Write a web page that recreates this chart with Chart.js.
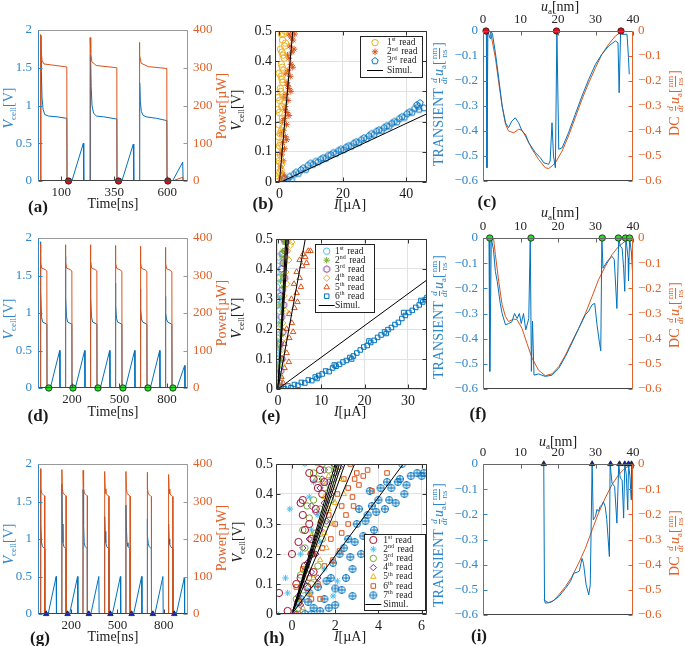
<!DOCTYPE html>
<html lang="en">
<head>
<meta charset="UTF-8">
<title>Read transients</title>
<script src="https://cdn.jsdelivr.net/npm/chart.js@4.4.1/dist/chart.umd.min.js"></script>
<style>
  html, body { margin: 0; padding: 0; background: #fff; }
  #fig { position: relative; width: 685px; height: 646px; overflow: hidden; font-family: "Liberation Serif", "DejaVu Serif", serif; color: #1a1a1a; }
  #fig canvas { position: absolute; }
  .t { position: absolute; white-space: nowrap; font-size: 14px; line-height: 1; transform: translate(-50%, -50%); }
  .r { transform: translate(-50%, -50%) rotate(-90deg); }
  .tag { font-weight: bold; font-size: 17px; }
  .t sub { font-size: 9px; vertical-align: -3px; line-height: 0; }
  .frac { display: inline-flex; flex-direction: column; align-items: center; vertical-align: middle; font-size: 9px; line-height: 1.05; margin: 0 1px; }
  .frac > span:first-child { border-bottom: 1px solid currentColor; }
  .blue { color: #2f86c9; }
  .orange { color: #e0622a; }
</style>
</head>
<body>
<div id="fig">
  <canvas id="ca"></canvas><canvas id="cb"></canvas><canvas id="cc"></canvas>
  <canvas id="cd"></canvas><canvas id="ce"></canvas><canvas id="cf"></canvas>
  <canvas id="cg"></canvas><canvas id="ch"></canvas><canvas id="ci"></canvas>

  <!-- row 1 -->
  <div class="t r blue" style="left:9px;top:108px"><i>V</i><sub>cell</sub>[V]</div>
  <div class="t r orange" style="left:222px;top:106px">Power[µW]</div>
  <div class="t" style="left:113px;top:204px">Time[ns]</div>
  <div class="t tag" style="left:38px;top:206px">(a)</div>
  <div class="t r" style="left:237px;top:110px"><i>V</i><sub>cell</sub>[V]</div>
  <div class="t" style="left:350px;top:205px"><i>I</i>[µA]</div>
  <div class="t tag" style="left:263px;top:203px">(b)</div>
  <div class="t r blue" style="left:440px;top:104px">TRANSIENT <span class="frac"><span><i>d</i></span><span><i>dt</i></span></span><i>u</i><sub>a</sub>[<span class="frac"><span>nm</span><span>ns</span></span>]</div>
  <div class="t" style="left:560px;top:7px"><i>u</i><sub>a</sub>[nm]</div>
  <div class="t r orange" style="left:676px;top:103px">DC <span class="frac"><span><i>d</i></span><span><i>dt</i></span></span><i>u</i><sub>a</sub>[<span class="frac"><span>nm</span><span>ns</span></span>]</div>
  <div class="t tag" style="left:487px;top:201px">(c)</div>

  <!-- row 2 -->
  <div class="t r blue" style="left:9px;top:319px"><i>V</i><sub>cell</sub>[V]</div>
  <div class="t r orange" style="left:222px;top:313px">Power[µW]</div>
  <div class="t" style="left:113px;top:412px">Time[ns]</div>
  <div class="t tag" style="left:38px;top:415px">(d)</div>
  <div class="t r" style="left:237px;top:318px"><i>V</i><sub>cell</sub>[V]</div>
  <div class="t" style="left:350px;top:412px"><i>I</i>[µA]</div>
  <div class="t tag" style="left:271px;top:415px">(e)</div>
  <div class="t r blue" style="left:440px;top:317px">TRANSIENT <span class="frac"><span><i>d</i></span><span><i>dt</i></span></span><i>u</i><sub>a</sub>[<span class="frac"><span>nm</span><span>ns</span></span>]</div>
  <div class="t" style="left:560px;top:213px"><i>u</i><sub>a</sub>[nm]</div>
  <div class="t r orange" style="left:676px;top:315px">DC <span class="frac"><span><i>d</i></span><span><i>dt</i></span></span><i>u</i><sub>a</sub>[<span class="frac"><span>nm</span><span>ns</span></span>]</div>
  <div class="t tag" style="left:478px;top:413px">(f)</div>

  <!-- row 3 -->
  <div class="t r blue" style="left:9px;top:544px"><i>V</i><sub>cell</sub>[V]</div>
  <div class="t r orange" style="left:222px;top:538px">Power[µW]</div>
  <div class="t" style="left:113px;top:637px">Time[ns]</div>
  <div class="t tag" style="left:40px;top:637px">(g)</div>
  <div class="t r" style="left:238px;top:542px"><i>V</i><sub>cell</sub>[V]</div>
  <div class="t" style="left:350px;top:637px"><i>I</i>[µA]</div>
  <div class="t tag" style="left:274px;top:637px">(h)</div>
  <div class="t r blue" style="left:440px;top:545px">TRANSIENT <span class="frac"><span><i>d</i></span><span><i>dt</i></span></span><i>u</i><sub>a</sub>[<span class="frac"><span>nm</span><span>ns</span></span>]</div>
  <div class="t" style="left:558px;top:442px"><i>u</i><sub>a</sub>[nm]</div>
  <div class="t r orange" style="left:676px;top:543px">DC <span class="frac"><span><i>d</i></span><span><i>dt</i></span></span><i>u</i><sub>a</sub>[<span class="frac"><span>nm</span><span>ns</span></span>]</div>
  <div class="t tag" style="left:479px;top:635px">(i)</div>
</div>

<script>
// ---------- data ----------
// (a) three reads, [time ns, value]
const aTicks = [100, 350, 600];
const aVcell = [[-10,0],[3,0],[4,1.93],[6,1.45],[9,1.1],[14,0.95],[22,0.88],[40,0.86],[80,0.85],[126,0.83],[127,0],[150,0],[204,0.5],[206,0],
  [237,0],[238,1.68],[241,1.25],[245,1.0],[252,0.9],[265,0.86],[300,0.85],[362,0.82],[363,0],[386,0],[440,0.49],[442,0],
  [469,0],[470,1.3],[473,1.05],[478,0.92],[486,0.87],[500,0.85],[550,0.83],[598,0.8],[599,0],[625,0],[673,0.25],[675,0],[698,0]];
const aPower = [[-10,0],[1,0],[2,388],[5,345],[9,320],[18,310],[60,307],[126,302],[127,0],
  [235,0],[236,380],[239,338],[244,316],[265,306],[362,300],[363,0],
  [467,0],[468,367],[471,332],[477,312],[510,303],[598,298],[599,0],[625,0],[673,10],[675,0],[698,0]];
const aMarks = [[134,0],[370,0],[603,0]];

// (d) six reads
const dTicks = [200, 500, 800];
const dVcell = [[-15,0],[-1,0],[0,1.95],[3,1.3],[7,0.95],[14,0.88],[41,0.85],[42,0],[63,0],[122,0.5],[124,0],
  [157,0],[158,1.75],[161,1.2],[165,0.95],[172,0.88],[199,0.85],[200,0],[221,0],[280,0.5],[282,0],
  [315,0],[316,1.68],[319,1.2],[323,0.95],[330,0.88],[357,0.85],[358,0],[379,0],[438,0.5],[440,0],
  [473,0],[474,1.4],[477,1.1],[481,0.93],[488,0.88],[515,0.85],[516,0],[537,0],[596,0.5],[598,0],
  [631,0],[632,1.32],[635,1.05],[639,0.92],[646,0.88],[673,0.85],[674,0],[695,0],[754,0.5],[756,0],
  [789,0],[790,1.22],[793,1.0],[797,0.92],[804,0.88],[831,0.85],[832,0],[863,0],[912,0.3],[914,0],[933,0]];
const dPower = [[-15,0],[-1,0],[0,385],[3,335],[8,320],[30,316],[41,312],[42,0],
  [157,0],[158,382],[161,335],[166,320],[188,316],[199,312],[200,0],
  [315,0],[316,382],[319,335],[324,320],[346,316],[357,312],[358,0],
  [473,0],[474,380],[477,333],[482,319],[504,315],[515,311],[516,0],
  [631,0],[632,378],[635,333],[640,319],[662,315],[673,311],[674,0],
  [789,0],[790,375],[793,332],[798,318],[820,314],[831,310],[832,0],[933,0]];
const dMarks = [[53,0],[206,0],[364,0],[522,0],[680,0],[838,0]];

// (g) seven reads
const gTicks = [200, 500, 800];
const gVcell = [[-16,0],[-1,0],[0,1.93],[3,1.2],[7,0.95],[13,0.9],[27,0.87],[28,0],[50,0],[102,0.5],[104,0],
  [138,0],[139,1.73],[142,1.2],[146,0.95],[152,0.9],[166,0.87],[167,0],[189,0],[241,0.5],[243,0],
  [276,0],[277,1.66],[280,1.2],[284,0.95],[290,0.9],[304,0.87],[305,0],[327,0],[379,0.5],[381,0],
  [416,0],[417,1.3],[420,1.1],[424,0.95],[430,0.9],[444,0.87],[445,0],[467,0],[519,0.5],[521,0],
  [554,0],[555,1.45],[558,1.15],[562,0.95],[568,0.9],[582,0.87],[583,0],[605,0],[657,0.5],[659,0],
  [692,0],[693,1.27],[696,1.05],[700,0.94],[706,0.9],[720,0.87],[721,0],[743,0],[795,0.5],[797,0],
  [831,0],[832,1.2],[835,1.0],[839,0.93],[845,0.9],[859,0.87],[860,0],[882,0],[934,0.48],[936,0],[958,0]];
const gPower = [[-16,0],[-1,0],[0,388],[3,335],[8,322],[20,318],[27,315],[28,0],
  [138,0],[139,385],[142,335],[147,322],[159,318],[166,315],[167,0],
  [276,0],[277,383],[280,335],[285,322],[297,318],[304,315],[305,0],
  [416,0],[417,380],[420,334],[425,321],[437,317],[444,314],[445,0],
  [554,0],[555,380],[558,334],[563,321],[575,317],[582,314],[583,0],
  [692,0],[693,378],[696,333],[701,320],[713,316],[720,313],[721,0],
  [831,0],[832,372],[835,333],[840,320],[852,316],[859,313],[860,0],[958,0]];
const gMarks = [[37,0],[176,0],[314,0],[454,0],[592,0],[730,0],[869,0]];

// (c) (f) (i) velocity vs u_a, [u_a nm, d/dt u_a nm/ns]
const cTransient = [[0.9,0],[1.05,-0.547],[1.3,0],[1.9,-0.03],[2.1,0],[2.5,-0.01],[3.3,-0.087],[4.2,-0.19],[5.1,-0.3],[6.0,-0.367],[6.8,-0.387],
  [7.7,-0.36],[8.6,-0.347],[9.5,-0.367],[10.4,-0.4],[11.3,-0.413],[12.2,-0.447],[14,-0.487],[15.3,-0.507],[16.2,-0.527],[17.5,-0.533],
  [17.9,-0.52],[18.4,-0.367],[18.8,-0.5],[19.3,-0.547],[19.7,0],[20.2,-0.473],[21.1,-0.467],[22.8,-0.407],[24.6,-0.333],[26.4,-0.26],
  [28.2,-0.193],[30,-0.133],[31.7,-0.093],[33.5,-0.06],[35.3,-0.04],[36,-0.047],[36.3,-0.247],[36.7,0],[37.1,-0.013],[38.4,-0.013],[38.8,-0.107],[39,-0.173]];
const cDC = [[1.96,0],[3.3,-0.107],[4.2,-0.207],[5.1,-0.3],[6,-0.373],[6.8,-0.4],[8.2,-0.407],[9.5,-0.393],[10.4,-0.397],[11.3,-0.42],[13.1,-0.473],
  [14.8,-0.513],[16.6,-0.547],[17.5,-0.55],[18.4,-0.54],[19.3,-0.527],[21.1,-0.48],[22.8,-0.42],[24.6,-0.347],[26.4,-0.273],[28.2,-0.207],
  [30,-0.147],[31.7,-0.093],[33.5,-0.053],[35.3,-0.02],[36.6,-0.007],[38,0]];
const cMarks = [[0.8,0],[19.6,0],[36.8,0]];

const fTransient = [[1.6,0],[1.8,-0.53],[2.0,-0.3],[2.2,0],[2.8,-0.047],[3.3,-0.133],[3.8,-0.173],[4.6,-0.26],[5.1,-0.3],[6,-0.345],[6.8,-0.34],
  [7.7,-0.333],[8.4,-0.3],[9.1,-0.32],[9.7,-0.3],[10.2,-0.34],[10.8,-0.3],[11.4,-0.365],[12.2,-0.32],[12.6,0],[12.9,-0.53],[13.2,-0.33],
  [13.6,-0.545],[14.8,-0.54],[16.6,-0.55],[18.4,-0.545],[20.2,-0.518],[22,-0.47],[23.7,-0.418],[25.5,-0.36],[27.3,-0.305],[28.2,-0.29],
  [29.1,-0.265],[29.8,-0.26],[30.4,-0.345],[31,-0.41],[31.4,-0.448],[31.7,0],[32,-0.12],[33.1,-0.093],[34.4,-0.073],[35,-0.085],[35.7,-0.28],
  [36.2,0],[36.6,-0.033],[37.1,-0.04],[37.5,-0.12],[37.8,-0.212],[38.1,0],[38.7,-0.08],[38.8,-0.17],[39.1,0],[39.6,-0.06],[39.9,-0.146]];
const fDC = [[2.8,0],[3.3,-0.066],[4.2,-0.173],[5.1,-0.266],[6,-0.312],[6.8,-0.332],[8.2,-0.322],[9.1,-0.325],[10.4,-0.359],[11.7,-0.418],
  [13.1,-0.478],[14.8,-0.525],[16.6,-0.547],[18.4,-0.54],[20.2,-0.511],[22,-0.465],[23.7,-0.412],[25.5,-0.359],[27.3,-0.3],[29.1,-0.232],
  [30.8,-0.166],[32.6,-0.113],[34.4,-0.066],[36.2,-0.033],[37.9,-0.013],[39.3,0]];
const fMarks = [[1.8,0],[12.8,0],[31.8,0],[36.1,0],[38,0],[39.1,0]];

const iTransient = [[16.2,0],[16.4,-0.54],[16.6,-0.553],[17.5,-0.551],[18.4,-0.547],[20.2,-0.527],[22,-0.494],[23.3,-0.467],[24.2,-0.434],
  [25.1,-0.43],[25.7,-0.425],[26.4,-0.375],[26.8,-0.395],[27.5,-0.48],[28.2,-0.52],[28.6,-0.48],[29.1,0],[29.4,-0.222],[30,-0.208],[30.4,-0.18],
  [30.8,-0.188],[31.2,-0.17],[31.7,-0.162],[32.1,-0.15],[32.6,-0.17],[33,-0.22],[33.7,-0.368],[33.9,0],[34.4,-0.076],[35.1,-0.09],[35.7,-0.235],
  [36.2,0],[36.6,-0.056],[37.1,-0.063],[37.5,-0.215],[37.8,0],[38.2,-0.04],[38.6,-0.182],[38.8,0],[39.2,-0.05],[39.5,-0.142],[39.6,0],[40,-0.14]];
const iDC = [[16.2,-0.54],[17.5,-0.551],[18.8,-0.543],[20.2,-0.52],[22,-0.487],[23.7,-0.448],[25.5,-0.394],[27.3,-0.335],[29.1,-0.262],
  [30.8,-0.195],[32.6,-0.135],[34.4,-0.082],[36.2,-0.042],[37.9,-0.016],[39.7,-0.003]];
const iMarks = [[16.2,0],[29.1,0],[34,0],[36.4,0],[37.8,0],[38.8,0],[39.6,0]];

// (b) (e) (h) I-V reads, [I µA, V]
const bLabels = ['1st read', '2nd read', '3rd read'];
const bRead1 = [[-0.6,0.01],[0.1,0.03],[-1.0,0.05],[-0.1,0.07],[0.3,0.09],[-0.6,0.11],[0.4,0.13],[-0.3,0.15],[0.6,0.17],[-0.2,0.19],[0.9,0.21],
  [0.0,0.23],[0.7,0.25],[0.1,0.27],[1.0,0.29],[0.3,0.31],[1.1,0.33],[0.5,0.35],[1.3,0.37],[0.6,0.39],[1.5,0.41],[0.8,0.43],[1.6,0.45],[1.0,0.47],
  [1.3,0.49],[1.7,0.5],[-1.2,0.02],[0.5,0.04],[-0.8,0.08],[0.2,0.16],[-0.5,0.24],[1.4,0.26],[0.4,0.3],[-0.1,0.36],[0.9,0.38],[0.3,0.44],
  [1.9,0.46],[0.6,0.49],[1.2,0.42],[0.8,0.34],[-0.4,0.28],[1.1,0.18],[0.0,0.12],[0.7,0.06]];
const bRead2 = [[0.3,0.01],[0.9,0.03],[0.4,0.05],[1.2,0.07],[0.7,0.09],[1.6,0.11],[1.0,0.13],[1.9,0.15],[1.2,0.17],[2.2,0.19],[1.5,0.21],[2.4,0.23],
  [1.8,0.25],[2.7,0.27],[2.1,0.29],[3.0,0.31],[2.4,0.33],[3.4,0.35],[2.7,0.37],[3.6,0.39],[3.0,0.41],[3.9,0.43],[3.3,0.45],[4.3,0.47],[3.6,0.48],
  [4.8,0.49],[1.5,0.02],[0.6,0.1],[2.3,0.14],[0.9,0.2],[3.0,0.22],[1.4,0.28],[3.6,0.3],[2.0,0.36],[4.2,0.38],[2.5,0.42],[4.6,0.44],[3.0,0.49],
  [4.0,0.5],[1.7,0.24],[2.6,0.32],[0.5,0.16]];
const bRead3 = [[0.8,0.002],[1.4,0.012],[2.0,-0.004],[2.6,0.008],[3.2,0.018],[3.8,0.006],[4.5,0.025],[5.2,0.032],[6.0,0.028],[6.8,0.04],[7.5,0.046],
  [8.3,0.041],[9.0,0.055],[9.8,0.062],[10.6,0.058],[11.4,0.068],[12.2,0.066],[13.0,0.075],[13.8,0.08],[14.6,0.078],[15.4,0.088],[16.2,0.09],
  [17.0,0.097],[17.8,0.094],[18.6,0.104],[19.4,0.108],[20.2,0.106],[21.0,0.115],[21.8,0.12],[22.6,0.118],[23.4,0.128],[24.2,0.133],[25.0,0.13],
  [25.8,0.14],[26.6,0.146],[27.4,0.143],[28.2,0.153],[29.0,0.16],[29.8,0.157],[30.6,0.168],[31.4,0.172],[32.2,0.17],[33.0,0.18],[33.8,0.186],
  [34.6,0.184],[35.4,0.194],[36.2,0.2],[37.0,0.198],[37.8,0.21],[38.6,0.216],[39.4,0.214],[40.2,0.226],[41.0,0.232],[41.8,0.23],[42.6,0.243],
  [43.3,0.255],[43.8,0.25],[44.3,0.262],[44.0,0.24],[45.5,0.245]];
const bSims = [[[0,0],[4.2,0.5]], [[0.5,0],[46.5,0.226]]];

const eLabels = ['1st read', '2nd read', '3rd read', '4th read', '5th read', '6th read'];
const eRead1 = [[-0.3,0.02],[0.1,0.05],[-0.4,0.1],[0.2,0.13],[-0.2,0.17],[0.0,0.2],[-0.4,0.23],[0.3,0.26],[-0.1,0.3],[-0.3,0.34],[0.2,0.37],[-0.2,0.41],[0.1,0.44],
  [-0.4,0.12],[0.4,0.08],[-0.3,0.28],[0.1,0.32],[-0.4,0.39]];
const eRead2 = [[0.1,0.01],[0.4,0.04],[0.2,0.08],[0.7,0.1],[0.3,0.14],[0.8,0.18],[0.5,0.22],[1.0,0.26],[0.7,0.3],[1.2,0.34],[0.9,0.38],[1.3,0.42],[1.1,0.46],[1.5,0.49],
  [0.0,0.16],[0.4,0.28],[0.6,0.36],[0.9,0.44]];
const eRead3 = [[0.3,0.02],[0.6,0.06],[0.9,0.1],[0.5,0.15],[1.1,0.19],[0.8,0.24],[1.3,0.28],[1.0,0.33],[1.5,0.37],[1.2,0.42],[1.7,0.46],[1.4,0.5],[1.8,0.49],
  [0.6,0.31],[1.0,0.45],[0.8,0.4]];
const eRead4 = [[0.5,0.03],[1.0,0.08],[0.8,0.13],[1.4,0.17],[1.1,0.22],[1.7,0.26],[1.4,0.31],[2.1,0.35],[1.8,0.39],[2.5,0.43],[2.2,0.46],[2.9,0.48],[3.2,0.49],
  [1.3,0.37],[2.6,0.5],[1.9,0.44],[0.7,0.2]];
const eRead5 = [[0.3,0.01],[0.8,0.04],[1.5,0.07],[0.9,0.1],[2.0,0.12],[1.5,0.15],[2.6,0.17],[2.0,0.2],[3.2,0.22],[2.6,0.25],[3.8,0.27],[3.1,0.3],
  [4.3,0.32],[3.7,0.35],[5.0,0.37],[4.3,0.39],[5.6,0.41],[5.0,0.43],[6.3,0.44],[5.8,0.45],[7.0,0.46],[7.5,0.46],[1.2,0.02],[2.5,0.09],[3.5,0.19],
  [4.5,0.29],[5.3,0.34],[6.6,0.42]];
const eRead6 = [[0.2,0.002],[0.8,0.008],[1.5,0.001],[2.3,0.01],[3.0,0.004],[3.8,0.015],[4.6,0.012],[5.4,0.022],[6.2,0.02],[7.0,0.03],[7.8,0.028],
  [8.6,0.04],[9.4,0.045],[10.2,0.05],[11.0,0.06],[11.8,0.058],[12.6,0.07],[13.4,0.076],[14.2,0.082],[15.0,0.09],[15.8,0.095],[16.6,0.105],
  [17.4,0.11],[18.2,0.12],[19.0,0.13],[19.8,0.14],[20.6,0.145],[21.4,0.155],[22.2,0.162],[23.0,0.172],[23.8,0.18],[24.6,0.19],[25.4,0.198],
  [26.2,0.205],[27.0,0.215],[27.8,0.222],[28.6,0.235],[29.4,0.245],[30.2,0.255],[31.0,0.262],[31.8,0.272],[32.6,0.28],[33.4,0.29],[34.0,0.298],
  [34.4,0.305],[33.0,0.295],[29.0,0.255],[25.0,0.185],[21.0,0.16],[17.0,0.1],[13.0,0.08],[9.0,0.035]];
const eSims = [[[0,0],[1.8,0.5]], [[0,0],[2.1,0.5]], [[0,0],[2.4,0.5]], [[0,0],[6.3,0.5]], [[0,0],[35,0.37]]];

const hLabels = ['1st read', '2nd read', '3rd read', '4th read', '5th read', '6th read', '7th read'];
const hRead1 = [[-0.6,0.07],[-0.2,0.01],[0.0,0.2],[0.2,0.1],[0.3,0.24],[0.4,0.37],[0.5,0.38],[0.5,0.33],[0.6,0.16],[0.7,0.09],[0.8,0.3],[0.8,0.47],
  [0.9,0.25],[1.0,0.45],[1.1,0.35],[1.2,0.42],[1.3,0.48],[0.4,0.12],[0.9,0.2],[1.5,0.44],[0.3,0.04],[1.0,0.14],[0.6,0.28],[1.4,0.4]];
const hRead2 = [[-0.7,0.0],[-0.3,0.12],[-0.2,0.07],[-0.1,0.35],[0.2,0.03],[0.4,0.2],[0.6,0.5],[0.7,0.08],[0.9,0.28],[1.0,0.44],[1.2,0.33],[1.5,0.15],
  [1.9,0.06],[2.1,0.11],[0.8,0.39],[1.3,0.24]];
const hRead3 = [[0.3,0.02],[0.5,0.08],[0.7,0.15],[0.9,0.2],[1.1,0.27],[0.8,0.32],[1.3,0.35],[1.0,0.38],[1.5,0.42],[1.2,0.45],[1.7,0.48],[1.4,0.5],
  [0.6,0.22],[1.6,0.3],[1.9,0.45],[2.0,0.49],[0.2,0.05],[0.9,0.1],[1.2,0.16],[0.5,0.28],[1.4,0.25],[0.7,0.36],[1.8,0.38],[1.0,0.47],[0.4,0.13]];
const hRead4 = [[0.4,0.03],[0.6,0.1],[0.9,0.14],[1.1,0.2],[0.8,0.25],[1.3,0.28],[1.1,0.34],[1.5,0.37],[1.3,0.42],[1.7,0.44],[1.5,0.48],[1.9,0.5],
  [0.7,0.17],[1.6,0.31],[2.0,0.47],[0.5,0.22],[1.2,0.12],[0.3,0.06],[1.4,0.45],[0.9,0.36],[1.8,0.4],[2.2,0.49],[0.2,0.0]];
const hRead5 = [[0.5,0.02],[0.8,0.07],[1.0,0.12],[1.3,0.18],[1.1,0.23],[1.5,0.27],[1.3,0.31],[1.7,0.35],[1.5,0.39],[1.9,0.42],[1.7,0.46],[2.1,0.48],
  [1.2,0.5],[2.3,0.45],[0.9,0.26],[0.3,0.05],[0.6,0.15],[1.6,0.22],[1.9,0.3],[2.4,0.4],[1.4,0.44],[2.0,0.37]];
const hRead6 = [[0.3,0.0],[0.5,0.15],[0.9,0.05],[1.2,0.1],[1.5,0.16],[1.4,0.22],[1.8,0.25],[2.0,0.3],[1.7,0.33],[2.3,0.36],[2.1,0.4],[2.6,0.42],
  [2.4,0.45],[2.9,0.45],[3.0,0.47],[3.1,0.43],[2.85,0.36],[3.7,0.41],[4.4,0.47],[2.6,0.3],[2.2,0.21],[1.0,0.2],[0.8,0.12],[1.3,0.05],[2.5,0.33],
  [2.7,0.5],[3.3,0.46],[2.8,0.39],[0.2,0.09],[1.9,0.18],[3.5,0.48],[2.3,0.27]];
const hRead7 = [[0.6,0.0],[1.0,0.02],[1.5,0.05],[2.1,-0.01],[1.8,0.12],[2.3,0.08],[2.2,0.2],[2.8,0.15],[2.6,0.25],[3.2,0.2],[3.0,0.3],[3.8,0.28],
  [3.5,0.33],[4.0,0.38],[4.8,0.37],[4.6,0.42],[5.0,0.45],[5.3,0.43],[5.8,0.47],[6.1,0.47],[4.3,0.35],[3.3,0.26],[2.5,0.12],[5.5,0.46],[4.1,0.42],
  [3.6,0.41],[0.4,0.05],[0.8,0.07],[1.2,0.09],[1.6,0.11],[0.9,0.0],[1.3,0.01],[2.0,0.03],[1.7,0.02],[2.8,0.06],[1.9,0.17],[2.4,0.22],[2.9,0.24],
  [3.4,0.31],[3.9,0.34],[4.4,0.44],[5.2,0.4],[6.0,0.46],[3.1,0.35],[2.7,0.19],[4.9,0.44],[4.5,0.38],[3.7,0.36],[5.1,0.5],[2.0,0.085],[0.75,0.04]];
const hSims = [[[0,0],[2.0,0.5]], [[0,0],[2.1,0.5]], [[0,0],[2.2,0.5]], [[0,0],[2.3,0.5]], [[0,0],[2.45,0.5]], [[0,0],[2.9,0.5]], [[0,0],[5.15,0.5]]];

// ---------- styling ----------
const BLUE = '#0072BD', ORANGE = '#D95319', YELLOW = '#EDB120', PURPLE = '#7E2F8E', GREEN = '#77AC30', CYAN = '#4DBEEE', RED = '#A2142F';
const BLUE_TXT = '#2f86c9', ORANGE_TXT = '#e0622a', AXIS = '#333';
const TF = { family: 'Liberation Serif', size: 13 };
const TF2 = { family: 'Liberation Serif', size: 14 };

const xy = a => a.map(([x, y]) => ({ x, y }));
const num = v => String(+(+v).toFixed(3)).replace('-', '\u2212');

function glyph(kind, color, r) {
  const c = document.createElement('canvas');
  const n = Math.ceil(r * 2 + 3);
  c.width = c.height = n;
  const g = c.getContext('2d');
  const m = n / 2;
  g.strokeStyle = color;
  g.lineWidth = 1;
  g.beginPath();
  if (kind === 'plus') {
    g.arc(m, m, r, 0, 2 * Math.PI);
    g.moveTo(m - r, m); g.lineTo(m + r, m);
    g.moveTo(m, m - r); g.lineTo(m, m + r);
  } else {
    const k = kind === 'hexagon' ? 6 : 5;
    for (let i = 0; i < k; i++) {
      const a = -Math.PI / 2 + i * 2 * Math.PI / k;
      g.lineTo(m + r * Math.cos(a), m + r * Math.sin(a));
    }
    g.closePath();
  }
  g.stroke();
  return c;
}

// box lines and inward tick marks, MATLAB style
const frame = {
  id: 'frame',
  afterDatasetsDraw(chart, args, o) {
    if (!o || !o.sides) return;
    const { ctx, chartArea: a } = chart;
    const L = Math.round(a.left) + 0.5, R = Math.round(a.right) - 0.5;
    const T = Math.round(a.top) + 0.5, B = Math.round(a.bottom) - 0.5;
    const seg = (c, x1, y1, x2, y2) => {
      if (!c) return;
      ctx.strokeStyle = c;
      ctx.beginPath(); ctx.moveTo(x1, y1); ctx.lineTo(x2, y2); ctx.stroke();
    };
    ctx.save();
    ctx.lineWidth = 1;
    (o.marks || []).forEach(m => {
      const s = chart.scales[m.scale];
      s.ticks.forEach(t => {
        const p = Math.round(s.getPixelForValue(t.value)) + 0.5;
        if (m.side === 'bottom') seg(m.color, p, B, p, B - 4);
        if (m.side === 'top') seg(m.color, p, T, p, T + 4);
        if (m.side === 'left') seg(m.color, L, p, L + 4, p);
        if (m.side === 'right') seg(m.color, R, p, R - 4, p);
      });
    });
    const s = o.sides;
    seg(s.top, L, T, R, T); seg(s.bottom, L, B, R, B);
    seg(s.left, L, T, L, B); seg(s.right, R, T, R, B);
    ctx.restore();
  }
};

// legend box drawn inside the plot
const boxLegend = {
  id: 'boxLegend',
  afterDraw(chart, args, o) {
    if (!o || !o.items) return;
    const ctx = chart.ctx;
    ctx.save();
    ctx.fillStyle = '#fff';
    ctx.fillRect(o.x, o.y, o.w, o.h);
    ctx.strokeStyle = '#222';
    ctx.lineWidth = 1;
    ctx.strokeRect(o.x + 0.5, o.y + 0.5, o.w, o.h);
    o.items.forEach((it, i) => {
      const y = o.y + o.first + i * o.step;
      const mx = o.x + o.mark;
      if (it.line) {
        ctx.strokeStyle = '#000';
        ctx.beginPath(); ctx.moveTo(mx - 8, Math.round(y) + 0.5); ctx.lineTo(mx + 8, Math.round(y) + 0.5); ctx.stroke();
      } else {
        ctx.strokeStyle = it.color;
        ctx.fillStyle = 'rgba(0,0,0,0)';
        Chart.helpers.drawPoint(ctx, { pointStyle: it.style, radius: it.radius || 3.2, borderWidth: 1, rotation: 0 }, mx, y);
      }
      ctx.fillStyle = '#222';
      ctx.textBaseline = 'middle';
      let tx = o.x + o.text;
      const m = it.text.match(/^(\d)(st|nd|rd|th)(.*)$/);
      if (m) {
        ctx.font = '9.5px "Liberation Serif"';
        ctx.fillText(m[1], tx, y); tx += ctx.measureText(m[1]).width;
        ctx.font = '6px "Liberation Serif"';
        ctx.fillText(m[2], tx, y - 2.8); tx += ctx.measureText(m[2]).width + 1;
        ctx.font = '9.5px "Liberation Serif"';
        ctx.fillText(m[3], tx, y);
      } else {
        ctx.font = '9.5px "Liberation Serif"';
        ctx.fillText(it.text, tx, y);
      }
    });
    ctx.restore();
  }
};

Chart.register(frame, boxLegend);

function place(id, box) {
  const c = document.getElementById(id);
  c.width = box[2];
  c.height = box[3];
  c.style.left = box[0] + 'px';
  c.style.top = box[1] + 'px';
  return c;
}

function inner(box, plot) {
  return { L: plot[0] - box[0], T: plot[1] - box[1], R: box[2] - (plot[2] - box[0]), B: box[3] - (plot[3] - box[1]) };
}

function lineSet(data, color, axis) {
  return { data: xy(data), yAxisID: axis, showLine: true, borderColor: color, borderWidth: 1, pointRadius: 0, tension: 0 };
}

function markSet(data, style, fill, axis) {
  return { data: xy(data), yAxisID: axis, showLine: false, pointStyle: style, pointRadius: 3.2, backgroundColor: fill,
           borderColor: '#1a1a1a', borderWidth: 0.8, clip: false };
}

const NOGRID = { display: false, drawTicks: false };

// V_cell / power vs time
function timeChart(id, box, plot, o) {
  const cv = place(id, box);
  const m = inner(box, plot);
  new Chart(cv, {
    type: 'scatter',
    data: { datasets: [
      markSet(o.marks, o.markStyle, o.markFill, 'y'),
      lineSet(o.power, ORANGE, 'y2'),
      lineSet(o.vcell, BLUE, 'y')
    ] },
    options: {
      responsive: false, animation: false,
      layout: { padding: { top: m.T, left: 0, right: 0, bottom: 0 } },
      plugins: {
        legend: { display: false }, tooltip: { enabled: false },
        frame: { sides: { top: '#999', bottom: '#444', left: BLUE_TXT, right: '#999' },
                 marks: [{ scale: 'x', side: 'bottom', color: '#444' }, { scale: 'y2', side: 'right', color: '#999' }, { scale: 'y', side: 'left', color: BLUE_TXT }] }
      },
      scales: {
        x: { type: 'linear', min: o.xMin, max: o.xMax,
             afterBuildTicks: s => { s.ticks = o.ticks.map(v => ({ value: v })); },
             grid: NOGRID, border: { display: false },
             ticks: { font: TF, color: '#262626', padding: 4, maxRotation: 0, autoSkip: false },
             afterFit: s => { s.height = m.B; } },
        y: { position: 'left', min: 0, max: 2, grid: NOGRID, border: { display: false },
             ticks: { stepSize: 0.5, font: TF, color: BLUE_TXT, padding: 6, callback: num },
             afterFit: s => { s.width = m.L; } },
        y2: { position: 'right', min: 0, max: 400, grid: NOGRID, border: { display: false },
              ticks: { stepSize: 100, font: TF, color: ORANGE_TXT, padding: 5, callback: num },
              afterFit: s => { s.width = m.R; } }
      }
    }
  });
}

// velocity vs u_a, x axis on top
function rateChart(id, box, plot, o) {
  const cv = place(id, box);
  const m = inner(box, plot);
  new Chart(cv, {
    type: 'scatter',
    data: { datasets: [
      markSet(o.marks, o.markStyle, o.markFill, 'y'),
      lineSet(o.transient, BLUE, 'y'),
      lineSet(o.dc, ORANGE, 'y2')
    ] },
    options: {
      responsive: false, animation: false,
      layout: { padding: { top: 0, left: 0, right: 0, bottom: m.B } },
      plugins: {
        legend: { display: false }, tooltip: { enabled: false },
        frame: { sides: { top: '#666', bottom: '#444', left: BLUE_TXT, right: ORANGE_TXT },
                 marks: [{ scale: 'x', side: 'top', color: '#666' }, { scale: 'y', side: 'left', color: BLUE_TXT }, { scale: 'y2', side: 'right', color: ORANGE_TXT }] }
      },
      scales: {
        x: { type: 'linear', position: 'top', min: 0, max: 40, grid: NOGRID, border: { display: false },
             ticks: { stepSize: 10, font: TF, color: '#262626', padding: 4, maxRotation: 0, callback: num },
             afterFit: s => { s.height = m.T; } },
        y: { position: 'left', min: -0.6, max: 0, grid: NOGRID, border: { display: false },
             ticks: { stepSize: 0.1, font: TF, color: BLUE_TXT, padding: 5, callback: num },
             afterFit: s => { s.width = m.L; } },
        y2: { position: 'right', min: -0.6, max: 0, grid: NOGRID, border: { display: false },
              ticks: { stepSize: 0.1, font: TF, color: ORANGE_TXT, padding: 5, callback: num },
              afterFit: s => { s.width = m.R; } }
      }
    }
  });
}

// I-V scatter with simulation lines
function ivChart(id, box, plot, o) {
  const cv = place(id, box);
  const m = inner(box, plot);
  const sets = o.sims.map(s => lineSet(s, '#000', 'y'));
  o.reads.forEach(r => sets.push({ data: xy(r.data), yAxisID: 'y', showLine: false, pointStyle: r.style, pointRadius: r.radius || 3.2,
                                   borderColor: r.color, backgroundColor: 'rgba(0,0,0,0)', borderWidth: 1 }));
  const items = o.reads.map((r, i) => ({ text: o.labels[i], style: r.style, color: r.color, radius: r.radius }));
  items.push({ text: 'Simul.', line: true });
  new Chart(cv, {
    type: 'scatter',
    data: { datasets: sets },
    options: {
      responsive: false, animation: false,
      layout: { padding: { top: m.T, left: 0, right: 0, bottom: 0 } },
      plugins: {
        legend: { display: false }, tooltip: { enabled: false },
        frame: { sides: { top: AXIS, bottom: AXIS, left: AXIS, right: AXIS },
                 marks: [{ scale: 'x', side: 'bottom', color: AXIS }, { scale: 'x', side: 'top', color: AXIS },
                         { scale: 'y', side: 'left', color: AXIS }, { scale: 'y', side: 'right', color: AXIS }] },
        boxLegend: Object.assign({ items }, o.legend)
      },
      scales: {
        x: { type: 'linear', min: o.xMin, max: o.xMax, grid: { color: '#e2e2e2', drawTicks: false }, border: { display: false },
             ticks: { stepSize: o.xStep, includeBounds: false, font: TF2, color: '#1a1a1a', padding: 4, maxRotation: 0, autoSkip: false, callback: num },
             afterFit: s => { s.height = m.B; } },
        y: { position: 'left', min: 0, max: 0.5, grid: { color: '#e2e2e2', drawTicks: false }, border: { display: false },
             ticks: { stepSize: 0.1, font: TF2, color: '#1a1a1a', padding: 3, callback: num },
             afterFit: s => { s.width = m.L; } },
        yR: { position: 'right', display: true, min: 0, max: 0.5, grid: NOGRID, border: { display: false },
              ticks: { display: false }, afterFit: s => { s.width = m.R; } }
      }
    }
  });
}

// ---------- panels ----------
timeChart('ca', [0, 0, 230, 215], [38, 30, 188, 181],
  { xMin: -10, xMax: 698, ticks: aTicks, vcell: aVcell, power: aPower, marks: aMarks, markStyle: 'circle', markFill: '#e0101a' });
timeChart('cd', [0, 215, 230, 215], [38, 238, 188, 388],
  { xMin: -15, xMax: 933, ticks: dTicks, vcell: dVcell, power: dPower, marks: dMarks, markStyle: 'circle', markFill: '#22e022' });
timeChart('cg', [0, 430, 230, 216], [38, 464, 188, 614],
  { xMin: -16, xMax: 958, ticks: gTicks, vcell: gVcell, power: gPower, marks: gMarks, markStyle: 'triangle', markFill: '#1020c0' });

ivChart('cb', [230, 0, 225, 215], [275, 31, 427, 182], {
  xMin: -1.4, xMax: 46.5, xStep: 20, labels: bLabels, sims: bSims,
  reads: [{ data: bRead1, color: YELLOW, style: 'circle' }, { data: bRead2, color: ORANGE, style: 'star' },
          { data: bRead3, color: BLUE, style: glyph('pentagon', BLUE, 3.4) }],
  legend: { x: 130, y: 36, w: 62, h: 41, first: 6.7, step: 9.1, mark: 15, text: 27 }
});
ivChart('ce', [230, 215, 225, 215], [276, 239, 427, 389], {
  xMin: -0.46, xMax: 34.4, xStep: 10, labels: eLabels, sims: eSims,
  reads: [{ data: eRead1, color: CYAN, style: 'circle' }, { data: eRead2, color: GREEN, style: 'star' },
          { data: eRead3, color: PURPLE, style: glyph('hexagon', PURPLE, 3.4) }, { data: eRead4, color: YELLOW, style: 'rectRot' },
          { data: eRead5, color: ORANGE, style: 'triangle' }, { data: eRead6, color: BLUE, style: 'rect' }],
  legend: { x: 85, y: 29, w: 59, h: 68, first: 7.2, step: 9.0, mark: 11.7, text: 20 }
});
ivChart('ch', [230, 430, 225, 216], [276, 464, 427, 614], {
  xMin: -0.74, xMax: 6.25, xStep: 2, labels: hLabels, sims: hSims,
  reads: [{ data: hRead1, color: RED, style: 'circle', radius: 3.6 }, { data: hRead2, color: CYAN, style: 'star' },
          { data: hRead3, color: GREEN, style: 'circle' }, { data: hRead4, color: PURPLE, style: 'rectRot' },
          { data: hRead5, color: YELLOW, style: 'triangle' }, { data: hRead6, color: ORANGE, style: 'rect' },
          { data: hRead7, color: BLUE, style: glyph('plus', BLUE, 3.5) }],
  legend: { x: 134, y: 104, w: 61, h: 76, first: 6, step: 9.2, mark: 9.3, text: 19.3 }
});

rateChart('cc', [445, 0, 240, 215], [483, 31, 633, 181],
  { transient: cTransient, dc: cDC, marks: cMarks, markStyle: 'circle', markFill: '#e0101a' });
rateChart('cf', [445, 215, 240, 215], [483, 238, 633, 389],
  { transient: fTransient, dc: fDC, marks: fMarks, markStyle: 'circle', markFill: '#22e022' });
rateChart('ci', [445, 430, 240, 216], [483, 464, 633, 615],
  { transient: iTransient, dc: iDC, marks: iMarks, markStyle: 'triangle', markFill: '#1020c0' });
</script>
</body>
</html>
